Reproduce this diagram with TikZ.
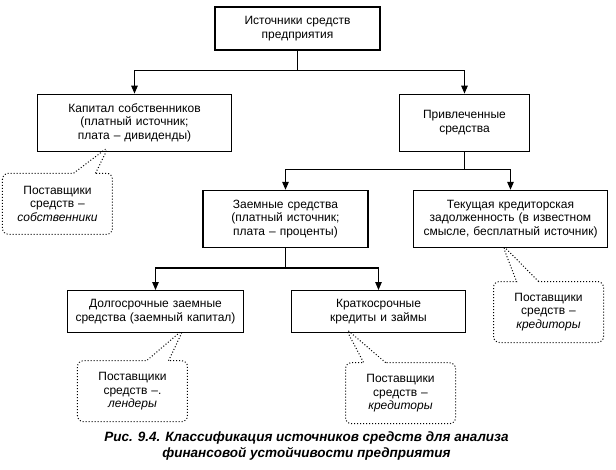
\documentclass[tikz,border=0pt]{standalone}
\usepackage{fontspec}
\setmainfont{Liberation Sans}
\usetikzlibrary{positioning,arrows.meta,shapes.callouts}

\begin{document}
\begin{tikzpicture}[
    node distance = 40pt,
    font={\fontsize{12}{13.5}\selectfont},
    >={Triangle[length=8pt,width=6.5pt]},
    base/.style={align=center,inner xsep=4pt,inner ysep=2pt},
    box/.style={base,rectangle,draw,line width=1.2pt,text width=#1,minimum height=42pt},
    tallbox/.style={box=#1,minimum height=57pt},
    note/.style={base,rectangle callout,draw,dotted,line width=1pt,rounded corners=6pt,
                 callout pointer width=22pt,text width=102pt,minimum height=61pt},
    link/.style={->,line width=1.2pt},
    caption/.style={align=center,font={\fontsize{13.5}{16}\selectfont\bfseries\itshape}},
]
    \useasboundingbox (-297.5pt,28.5pt) rectangle (318.5pt,-440.5pt);

    % Nodes
    \node[box=157pt,minimum height=43pt] (istochniki) {Источники средств\\предприятия};
    \node[tallbox=186pt,below=43pt of istochniki,xshift=-163pt] (kapital)
        {Капитал собственников\\(платный источник;\\плата – дивиденды)};
    \node[tallbox=122pt,below=43pt of istochniki,xshift=167pt] (privl) {Привлеченные\\средства};
    \node[tallbox=157pt,below=38pt of privl,xshift=-179pt] (zaem)
        {Заемные средства\\(платный источник;\\плата – проценты)};
    \node[tallbox=186pt,below=38pt of privl,xshift=46pt] (tekush)
        {Текущая кредиторская\\задолженность (в известном\\смысле, бесплатный источник)};
    \node[box=168pt,below=42pt of zaem,xshift=-130pt] (dolgo)
        {Долгосрочные заемные\\средства (заемный капитал)};
    \node[box=166pt,below=42pt of zaem,xshift=93pt] (kratko)
        {Краткосрочные\\кредиты и займы};

    % Arrows
    \draw[link] (istochniki.south) -- ++(0,-20pt) -| (kapital.north);
    \draw[link] (istochniki.south) -- ++(0,-20pt) -| (privl.north);
    \draw[link] (privl.south) -- ++(0,-18pt) -| (zaem.north);
    \draw[link] (privl.south) -- ++(0,-18pt) -| (tekush.north);
    \draw[link] (zaem.south) -- ++(0,-20pt) -| (dolgo.north);
    \draw[link] (zaem.south) -- ++(0,-20pt) -| (kratko.north);

    % Callouts
    \node[note,below=21pt of kapital,xshift=-77pt,
          callout absolute pointer={([xshift=-26pt,yshift=5pt]kapital.south)}] (sobstv)
        {Поставщики\\средств –\\\textit{собственники}};
    \node[note,below=33pt of tekush,xshift=38pt,
          callout absolute pointer={([xshift=-8pt,yshift=3pt]tekush.south)}] (kreditory1)
        {Поставщики\\средств –\\\textit{кредиторы}};
    \node[note,below=27pt of dolgo,xshift=-23pt,
          callout absolute pointer={([xshift=28pt,yshift=4pt]dolgo.south)}] (lendery)
        {Поставщики\\средств –.\\\textit{лендеры}};
    \node[note,below=29pt of kratko,xshift=22pt,
          callout absolute pointer={([xshift=-33pt,yshift=5pt]kratko.south)}] (kreditory2)
        {Поставщики\\средств –\\\textit{кредиторы}};

    % Caption
    \node[caption,below=180pt of zaem,xshift=21pt] (podpis)
        {Рис. 9.4. Классификация источников средств для анализа\\финансовой устойчивости предприятия};

\end{tikzpicture}
\end{document}
